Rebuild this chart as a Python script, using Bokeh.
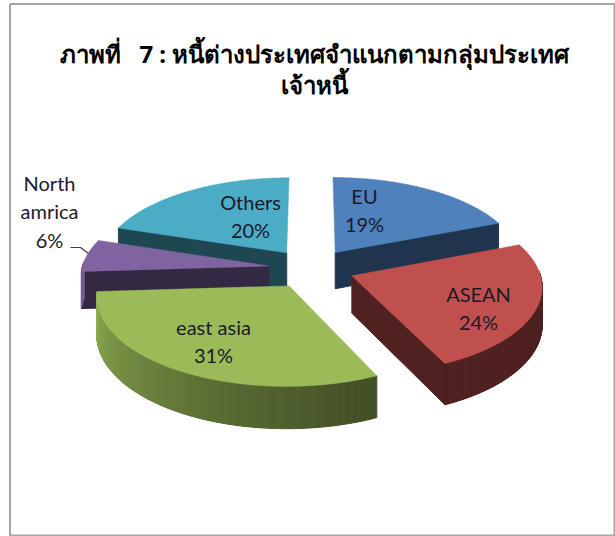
import numpy as np
from bokeh.plotting import figure
from bokeh.models import Range1d
from bokeh.core.properties import value
from bokeh.embed import file_html
from bokeh.resources import INLINE

title_lines = ["ภาพที่\u00a0\u00a0\u00a07 : หนี้ต่างประเทศจำแนกตามกลุ่มประเทศ", "เจ้าหนี้"]
categories = ["EU", "ASEAN", "east asia", "North\namrica", "Others"]
values = [19, 24, 31, 6, 20]
colors = ["#4F81BD", "#C0504D", "#9BBB59", "#8064A2", "#4BACC6"]

# layout of the projected pie (pixels)
CX, CY, R, Q, K, DEPTH, EXPLODE = 311, 268, 187, 0.46, 0.105, 37, 0.23
draw_order = [4, 0, 3, 1, 2]
label_pos = [(364, 195), (478, 293), (213, 326), (49, 182), (250, 201)]
LINE_H = 28.5


def project(px, py, lift=0.0):
    s = 1 / (1 + K * py)
    return CX + R * px * s, CY - R * Q * py * s + lift * s


def shade(hex_color, f):
    rgb = [int(hex_color[i:i + 2], 16) for i in (1, 3, 5)]
    return "#" + "".join(f"{int(round(c * f)):02x}" for c in rgb)


def wall_factor(deg):
    if deg <= 155:
        return 0.41
    return float(np.interp(deg, [155, 200, 240, 267], [0.42, 0.58, 0.78, 0.93]))


p = figure(width=615, height=536, x_range=Range1d(0, 615), y_range=Range1d(536, 0),
           x_axis_location=None, y_axis_location=None, toolbar_location=None,
           output_backend="svg", min_border=0, outline_line_color=None,
           background_fill_color="white", border_fill_color="white")
p.grid.visible = False

# chart frame
p.line([9.5, 614, 614, 9.5, 9.5], [3.5, 3.5, 535, 535, 3.5], line_color="#A6A6A6", line_width=2)

total = sum(values)
edges = np.concatenate([[0], np.cumsum(values)]) / total * 360.0

for i in draw_order:
    a0, a1 = edges[i], edges[i + 1]
    mid = np.radians((a0 + a1) / 2)
    ox, oy = EXPLODE * np.sin(mid), EXPLODE * np.cos(mid)
    th = np.radians(np.linspace(a0, a1, max(int(a1 - a0) * 2, 2) + 1))
    rim_x, rim_y = ox + np.sin(th), oy + np.cos(th)
    dark = shade(colors[i], 0.41)

    for ang, normal in ((a0, a0 - 90), (a1, a1 + 90)):
        if np.cos(np.radians(normal)) < -1e-6:
            t = np.radians(ang)
            ex, ey = ox + np.sin(t), oy + np.cos(t)
            x0, y0 = project(ox, oy)
            x1, y1 = project(ex, ey)
            x2, y2 = project(ex, ey, DEPTH)
            x3, y3 = project(ox, oy, DEPTH)
            p.patch([x0, x1, x2, x3], [y0, y1, y2, y3], fill_color=dark, line_color=dark, line_width=1)

    for j in range(len(th) - 1):
        if np.cos((th[j] + th[j + 1]) / 2) > 0.05:
            continue
        deg = np.degrees((th[j] + th[j + 1]) / 2)
        col = shade(colors[i], wall_factor(deg))
        x0, y0 = project(rim_x[j], rim_y[j])
        x1, y1 = project(rim_x[j + 1], rim_y[j + 1])
        x2, y2 = project(rim_x[j + 1], rim_y[j + 1], DEPTH)
        x3, y3 = project(rim_x[j], rim_y[j], DEPTH)
        p.patch([x0, x1, x2, x3], [y0, y1, y2, y3], fill_color=col, line_color=col, line_width=1)

    tx, ty = project(np.r_[ox, rim_x], np.r_[oy, rim_y])
    p.patch(tx, ty, fill_color=colors[i], line_color=colors[i], line_width=0.5)

p.line([70, 80, 88], [247, 247, 253], line_color="#404040", line_width=1.2)

lab_x, lab_y, lab_t = [], [], []
for cat, v, (lx, ly) in zip(categories, values, label_pos):
    for k, t in enumerate(cat.split("\n") + [f"{v}%"]):
        lab_x.append(lx)
        lab_y.append(ly + k * LINE_H)
        lab_t.append(t)
p.text(lab_x, lab_y, text=lab_t, text_font=value("Lato"), text_font_size="20px",
       text_color="#1A1A2A", text_align="center", text_baseline="middle")

p.text([314, 314], [53, 84], text=title_lines, text_font=value("Noto Sans"),
       text_font_size="24px", text_font_style="bold", text_color="#000000",
       text_align="center", text_baseline="middle")

open("out.html", "w").write(file_html(p, INLINE))
